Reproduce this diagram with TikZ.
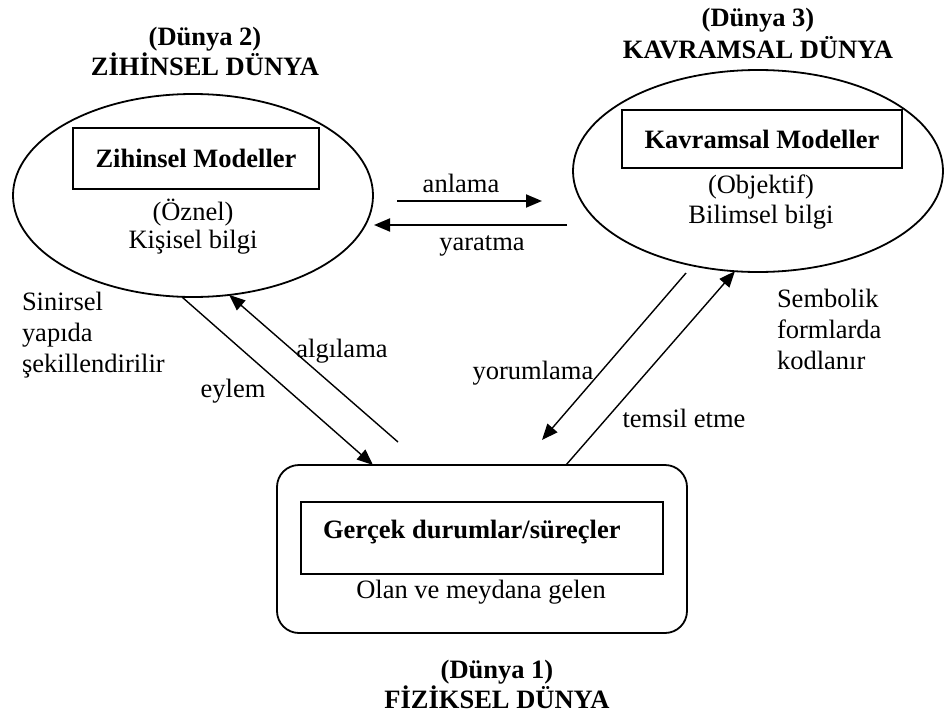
\documentclass[tikz,border=0pt]{standalone}
\usepackage{fontspec}
\setmainfont{Liberation Serif}
\usetikzlibrary{shapes.geometric,arrows.meta,calc}
\begin{document}
\begin{tikzpicture}[x=0.5pt,y=-0.5pt,
  every node/.style={font=\fontsize{13.25pt}{15pt}\selectfont, inner sep=0pt, outer sep=0pt},
  world/.style={ellipse, draw, line width=0.9pt},
  modelbox/.style={rectangle, draw, line width=0.9pt, font=\fontsize{13.25pt}{15pt}\selectfont\bfseries},
  worldtitle/.style={align=center, anchor=base},
  lbl/.style={anchor=base},
  note/.style={align=left, anchor=base west, font=\fontsize{13.25pt}{15.5pt}\selectfont},
  flow/.style={-{Triangle[length=8pt,width=6.5pt]}, line width=0.7pt},
  hflow/.style={flow, line width=0.95pt},
]
\useasboundingbox (0,0) rectangle (944,718);

% the three worlds
\node[world, minimum width=180pt, minimum height=101.5pt] (mind) at (193,195.5) {};
\node[world, minimum width=185pt, minimum height=101pt] (concept) at (758,171) {};
\node[rectangle, rounded corners=11pt, draw, line width=0.9pt,
      minimum width=205pt, minimum height=84pt] (phys) at (482,549) {};

% model boxes
\node[modelbox, minimum width=123pt, minimum height=30.5pt] (mindbox) at (196,158.5) {Zihinsel Modeller};
\node[modelbox, minimum width=140pt, minimum height=29pt] (conceptbox) at (762,139) {Kavramsal Modeller};
\node[modelbox, minimum width=181pt, minimum height=36pt] (physbox) at (482,538) {};
\node[anchor=base west, font=\fontsize{13.25pt}{15pt}\selectfont\bfseries] (physname) at (323,538) {Gerçek durumlar/süreçler};

% contents (base anchor sits on the last line)
\node[worldtitle, font=\fontsize{13.25pt}{14pt}\selectfont] (mindtext) at (193,248) {(Öznel)\\Kişisel bilgi};
\node[worldtitle, font=\fontsize{13.25pt}{15pt}\selectfont] (concepttext) at (761,223) {(Objektif)\\Bilimsel bilgi};
\node[lbl] (phystext) at (481,598) {Olan ve meydana gelen};

% titles
\node[worldtitle, font=\fontsize{13.25pt}{15pt}\selectfont\bfseries] (t2) at (205,75) {(Dünya 2)\\ZİHİNSEL DÜNYA};
\node[worldtitle, font=\fontsize{13.25pt}{16pt}\selectfont\bfseries] (t3) at (758,58) {(Dünya 3)\\KAVRAMSAL DÜNYA};
\node[worldtitle, font=\fontsize{13.25pt}{15pt}\selectfont\bfseries] (t1) at (497,708) {(Dünya 1)\\FİZİKSEL DÜNYA};

% side notes
\node[note] (neural) at (22,372) {Sinirsel\\yapıda\\şekillendirilir};
\node[note] (symbolic) at (777,369) {Sembolik\\formlarda\\kodlanır};

% free ends of connectors
\coordinate (anlS) at (397,201);
\coordinate (anlE) at (542,201);
\coordinate (yarS) at (567,225);
\coordinate (yarE) at (374,225);
\coordinate (algS) at (398,442);
\coordinate (yorS) at (686,273);
\coordinate (yorE) at (542,440);

% connectors
\draw[hflow] (anlS) -- (anlE);
\draw[hflow] (yarS) -- (yarE);
\draw[flow] ($(mind.south)+(-11,0)$) -- ($(phys.north west)+(96,0)$);
\draw[flow] (algS) -- (mind.-70);
\draw[flow] (yorS) -- (yorE);
\draw[flow] ($(phys.north west)+(289,0)$) -- (concept.-103.5);

% connector labels
\node[lbl] (lanl) at (461,192) {anlama};
\node[lbl] (lyar) at (482,250) {yaratma};
\node[lbl] (leyl) at (233,397) {eylem};
\node[lbl] (lalg) at (342,357) {algılama};
\node[lbl] (lyor) at (533,379) {yorumlama};
\node[lbl] (ltem) at (684,427) {temsil etme};
\end{tikzpicture}
\end{document}
